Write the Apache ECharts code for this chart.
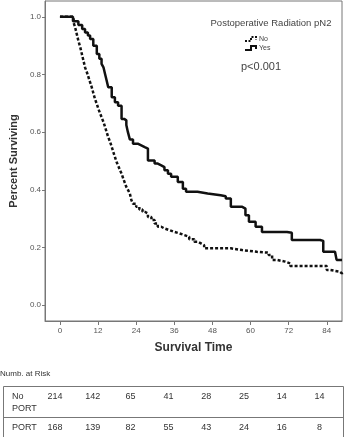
<!DOCTYPE html>
<html>
<head>
<meta charset="utf-8">
<script src="https://cdn.jsdelivr.net/npm/echarts@6/dist/echarts.min.js"></script>
<style>
  html, body { margin: 0; padding: 0; background: #fff; }
  #chart { width: 347px; height: 437px; }
</style>
</head>
<body>
<div id="chart"></div>
<script>
// PORT (Yes) - step points
const yesTime = [0, 4.1, 5.8, 7.0, 7.9, 8.8, 9.5, 10.5, 11.6, 12.4, 13.1, 13.7, 14.2, 14.7, 15.2, 16.3, 17.3, 18.3, 19.4, 20.2,
  20.9, 21.4, 22.0, 23.0, 24.5, 25.6, 26.7, 27.7, 29.8, 30.8, 31.9, 32.9, 34.0, 35.0, 37.1, 38.7, 39.7, 43.3, 46.5, 50.6,
  52.2, 53.8, 57.4, 58.4, 59.5, 61.6, 63.6, 71.5, 73.0, 81.9, 82.9, 86.6, 87.1, 88.8]
const yesSurv = [1.0, 0.985, 0.972, 0.958, 0.946, 0.935, 0.923, 0.900, 0.871, 0.855, 0.837, 0.825, 0.802, 0.779, 0.756, 0.721, 0.704, 0.692, 0.646, 0.641,
  0.625, 0.600, 0.575, 0.560, 0.554, 0.548, 0.543, 0.502, 0.491, 0.485, 0.479, 0.468, 0.456, 0.445, 0.427, 0.404, 0.393, 0.387, 0.381, 0.378,
  0.370, 0.341, 0.335, 0.312, 0.289, 0.272, 0.254, 0.251, 0.226, 0.223, 0.185, 0.180, 0.157, 0.157]

// No PORT
const noTime = [0, 4.3, 4.8, 5.3, 5.8, 6.4, 6.9, 7.4, 7.9, 8.5, 9.0, 9.5, 10.0, 10.5, 11.0, 11.6, 12.1, 12.6, 13.1, 13.7,
  14.2, 14.7, 15.2, 15.8, 16.3, 16.8, 17.3, 17.8, 18.4, 18.9, 19.4, 19.9, 20.4, 20.9, 21.5, 22.0, 22.5, 23.0, 24.0, 25.0,
  26.0, 26.7, 27.7, 28.8, 29.8, 30.8, 31.9, 32.9, 34.5, 36.0, 37.6, 39.2, 40.7, 42.3, 43.4, 44.4, 45.4, 53.8, 57.4, 62.0,
  65.7, 66.8, 68.3, 70.9, 72.5, 84.0, 85.0, 88.1, 88.8]
const noSurv = [1.0, 0.980, 0.963, 0.940, 0.917, 0.894, 0.871, 0.848, 0.825, 0.807, 0.790, 0.773, 0.756, 0.736, 0.716, 0.698, 0.681, 0.666, 0.652, 0.635,
  0.618, 0.600, 0.583, 0.566, 0.549, 0.531, 0.514, 0.497, 0.482, 0.468, 0.456, 0.440, 0.425, 0.410, 0.398, 0.387, 0.364, 0.352, 0.341, 0.332,
  0.324, 0.318, 0.306, 0.295, 0.283, 0.272, 0.266, 0.260, 0.254, 0.249, 0.243, 0.237, 0.229, 0.220, 0.214, 0.208, 0.197, 0.191, 0.185, 0.182,
  0.174, 0.157, 0.151, 0.145, 0.136, 0.122, 0.116, 0.110, 0.105]

const xTicks = [0, 12, 24, 36, 48, 60, 72, 84]
const yTicks = [0, 0.2, 0.4, 0.6, 0.8, 1.0]

// numbers at risk
const riskNo = [214, 142, 65, 41, 28, 25, 14, 14]
const riskYes = [168, 139, 82, 55, 43, 24, 16, 8]

const font = 'Arial, "Liberation Sans", sans-serif'
const zip = (a, b) => a.map((v, i) => [v, b[i]])

let myChart = echarts.init(document.getElementById('chart'))

// table texts
let tableTexts = []
riskNo.forEach((v, i) => {
  tableTexts.push({type: 'text', x: 55 + i * 37.8, y: 397,
    style: {text: String(v), fill: '#333', font: '9px ' + font, align: 'center', verticalAlign: 'middle'}})
})
riskYes.forEach((v, i) => {
  tableTexts.push({type: 'text', x: 55 + i * 37.8, y: 428,
    style: {text: String(v), fill: '#333', font: '9px ' + font, align: 'center', verticalAlign: 'middle'}})
})

let option = {
  animation: false,
  grid: {left: 43, top: 1, right: 5, bottom: 116, show: true, borderColor: '#777', borderWidth: 1},
  xAxis: {
    type: 'value', min: -4.7, max: 88.8,
    name: 'Survival Time', nameLocation: 'middle', nameGap: 21,
    nameTextStyle: {fontFamily: font, fontWeight: 'bold', fontSize: 12, color: '#333'},
    axisLine: {onZero: false, lineStyle: {color: '#777'}},
    axisTick: {customValues: xTicks, length: 4, lineStyle: {color: '#777'}},
    axisLabel: {customValues: xTicks, fontSize: 8, color: '#555', fontFamily: font, margin: 6},
    splitLine: {show: false}
  },
  yAxis: {
    type: 'value', min: -0.055, max: 1.055,
    name: 'Percent Surviving', nameLocation: 'middle', nameGap: 24,
    nameTextStyle: {fontFamily: font, fontWeight: 'bold', fontSize: 11, color: '#333'},
    axisLine: {show: true, onZero: false, lineStyle: {color: '#777'}},
    axisTick: {show: true, customValues: yTicks, length: 3, lineStyle: {color: '#777'}},
    axisLabel: {customValues: yTicks, fontSize: 8, color: '#555', fontFamily: font, margin: 4,
      formatter: v => v.toFixed(1)},
    splitLine: {show: false}
  },
  series: [
    {
      name: 'No', type: 'line', step: 'end', showSymbol: false,
      data: zip(noTime, noSurv),
      lineStyle: {color: '#111', width: 2.5, type: [3, 2]}
    },
    {
      name: 'Yes', type: 'line', step: 'end', showSymbol: false,
      data: zip(yesTime, yesSurv),
      lineStyle: {color: '#111', width: 2.5}
    }
  ],
  graphic: [
    {type: 'text', x: 271, y: 23, style: {text: 'Postoperative Radiation pN2', fill: '#444', font: '9.5px ' + font, align: 'center', verticalAlign: 'middle'}},
    {type: 'polyline', shape: {points: [[245, 41], [251, 41], [251, 37], [256, 37], [256, 40]]}, style: {stroke: '#111', lineWidth: 2, lineDash: [2, 1.5], fill: null}},
    {type: 'text', x: 259, y: 39, style: {text: 'No', fill: '#444', font: '7px ' + font, verticalAlign: 'middle'}},
    {type: 'polyline', shape: {points: [[245, 50], [251, 50], [251, 46], [256, 46], [256, 49]]}, style: {stroke: '#111', lineWidth: 2, fill: null}},
    {type: 'text', x: 259, y: 48.5, style: {text: 'Yes', fill: '#444', font: '7px ' + font, verticalAlign: 'middle'}},
    {type: 'text', x: 261, y: 67, style: {text: 'p<0.001', fill: '#444', font: '11px ' + font, align: 'center', verticalAlign: 'middle'}},
    // number at risk table
    {type: 'text', x: 0, y: 374, style: {text: 'Numb. at Risk', fill: '#333', font: '8px ' + font, verticalAlign: 'middle'}},
    {type: 'rect', shape: {x: 3.5, y: 386.5, width: 340, height: 60}, style: {stroke: '#777', lineWidth: 1, fill: null}},
    {type: 'line', shape: {x1: 3.5, y1: 417.5, x2: 343.5, y2: 417.5}, style: {stroke: '#777', lineWidth: 1}},
    {type: 'text', x: 12, y: 397, style: {text: 'No', fill: '#333', font: '9px ' + font, verticalAlign: 'middle'}},
    {type: 'text', x: 12, y: 409, style: {text: 'PORT', fill: '#333', font: '9px ' + font, verticalAlign: 'middle'}},
    {type: 'text', x: 12, y: 428, style: {text: 'PORT', fill: '#333', font: '9px ' + font, verticalAlign: 'middle'}}
  ].concat(tableTexts)
}
myChart.setOption(option)
</script>
</body>
</html>
